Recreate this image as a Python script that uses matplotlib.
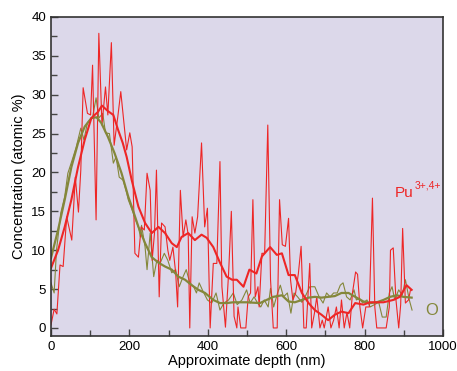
import matplotlib
matplotlib.use("Agg")
import matplotlib.pyplot as plt
from matplotlib.ticker import MultipleLocator

# Pu noisy (red thin)
pu_depth = [0, 8, 15, 23, 31, 40, 53, 62, 70, 76, 82, 93, 101, 106, 115, 122, 130, 139, 145, 154,
            161, 170, 178, 186, 193, 201, 207, 214, 223, 230, 238, 245, 253, 258, 264, 269, 276, 282,
            291, 298, 303, 311, 318, 323, 330, 337, 344, 350, 354, 360, 367, 374, 384, 392, 399, 406,
            414, 423, 431, 436, 445, 453, 460, 467, 474, 477, 484, 497, 503, 509, 515, 521, 528, 531,
            538, 545, 553, 560, 567, 577, 583, 590, 598, 606, 611, 617, 624, 631, 638, 645, 651, 660,
            665, 672, 678, 686, 692, 697, 707, 714, 721, 728, 735, 741, 748, 755, 762, 769, 777, 782,
            788, 795, 803, 812, 820, 826, 831, 840, 848, 855, 863, 866, 873, 880, 887, 892, 897, 904,
            912, 917]
pu_conc = [0.4, 2.4, 1.8, 8.1, 7.9, 14.3, 11.3, 19.4, 14.9, 20.3, 30.9, 27.6, 27.4, 33.8, 13.9, 37.9,
           26.1, 31.0, 27.4, 36.7, 23.5, 27.0, 30.4, 26.4, 22.9, 25.1, 23.3, 9.6, 9.1, 13.0, 12.6, 19.9,
           17.7, 8.7, 12.2, 20.3, 4.0, 13.5, 13.0, 10.0, 8.7, 10.4, 7.1, 2.7, 17.7, 11.7, 13.9, 12.0,
           0.0, 14.3, 12.2, 14.3, 23.8, 13.0, 15.4, 0.0, 8.3, 8.3, 21.4, 5.3, 0.1, 7.0, 15.0, 1.5, 0.0,
           2.7, 0.0, 0.0, 4.0, 4.5, 16.5, 4.0, 5.3, 2.7, 9.6, 9.6, 26.1, 6.2, 0.0, 0.0, 16.5, 10.7, 10.5,
           14.1, 6.2, 3.6, 4.5, 7.0, 10.5, 0.0, 0.0, 8.3, 0.0, 1.9, 4.0, 0.0, 1.0, 0.0, 2.7, 0.0, 1.0,
           2.7, 0.0, 3.6, 0.0, 2.0, 0.0, 4.5, 7.2, 6.9, 2.7, 0.0, 2.7, 2.7, 16.7, 2.7, 0.0, 0.0, 0.0,
           0.0, 2.7, 10.0, 10.3, 3.6, 0.0, 3.0, 12.8, 3.2, 3.6, 4.9]

# Pu smoothed (red thick)
pus_depth = [0, 18, 35, 52, 69, 86, 103, 120, 130, 145, 159, 171, 183, 193, 206, 223, 240, 257, 274,
             291, 308, 321, 333, 350, 367, 384, 397, 414, 431, 448, 462, 474, 491, 506, 524, 538, 559,
             576, 589, 606, 622, 640, 657, 673, 690, 707, 724, 741, 759, 776, 797, 814, 848, 873, 890,
             907, 920]
pus_conc = [7.7, 10.0, 13.0, 16.5, 20.7, 24.2, 27.0, 27.8, 28.6, 27.9, 27.4, 25.5, 23.8, 22.0, 19.0,
            15.6, 13.5, 12.2, 13.0, 12.2, 10.9, 10.4, 11.7, 12.2, 11.3, 12.0, 11.6, 10.4, 8.4, 6.6,
            6.2, 6.2, 5.3, 7.5, 7.0, 9.2, 10.4, 9.4, 9.6, 6.8, 6.8, 4.5, 3.2, 2.3, 1.7, 1.0, 1.7, 2.1,
            1.9, 3.2, 3.0, 3.3, 3.3, 3.6, 4.0, 5.5, 4.9]

# O noisy (olive thin)
o_depth = [0, 8, 14, 25, 35, 43, 54, 64, 76, 84, 93, 106, 115, 122, 132, 139, 149, 159, 166, 174,
           184, 193, 197, 206, 215, 223, 228, 231, 240, 245, 253, 262, 270, 279, 289, 298, 308, 318,
           327, 337, 345, 354, 364, 371, 378, 386, 399, 410, 421, 431, 441, 453, 465, 475, 487, 499,
           508, 518, 527, 535, 544, 554, 560, 568, 578, 585, 593, 603, 612, 620, 629, 640, 650, 660,
           673, 684, 694, 703, 712, 721, 730, 738, 745, 754, 763, 773, 779, 787, 795, 806, 814, 825,
           836, 845, 855, 863, 870, 877, 887, 896, 904, 914, 921]
o_conc = [5.8, 4.5, 10.0, 14.8, 16.9, 19.9, 21.6, 23.2, 25.7, 24.2, 26.4, 27.1, 29.6, 27.0, 27.6,
          25.1, 25.0, 21.2, 22.0, 19.4, 19.0, 17.4, 16.5, 15.3, 14.0, 13.0, 11.7, 13.2, 10.4, 7.5,
          12.2, 6.6, 8.7, 8.4, 9.6, 8.7, 7.1, 7.5, 5.3, 6.6, 7.5, 5.8, 5.3, 4.5, 5.8, 4.9, 3.6, 3.2,
          4.5, 2.3, 3.2, 3.6, 4.5, 3.0, 3.6, 4.9, 3.2, 4.0, 3.2, 2.7, 3.6, 2.7, 5.1, 2.7, 4.5, 5.5,
          4.0, 4.5, 1.9, 4.5, 4.0, 3.3, 4.2, 5.3, 5.3, 4.0, 3.2, 4.5, 4.0, 4.5, 4.5, 5.5, 5.8, 4.0,
          3.6, 4.9, 3.6, 3.8, 3.2, 3.6, 2.7, 3.0, 3.3, 1.4, 1.4, 4.5, 5.3, 3.6, 4.9, 4.2, 6.2, 3.6, 2.3]

# O smoothed (olive thick)
os_depth = [0, 18, 35, 52, 69, 86, 103, 116, 128, 145, 162, 180, 197, 206, 223, 240, 257, 274, 291,
            308, 325, 342, 359, 376, 393, 414, 431, 448, 465, 499, 533, 567, 589, 606, 622, 640, 657,
            673, 690, 707, 724, 741, 759, 776, 797, 814, 831, 848, 865, 882, 899, 920]
os_conc = [9.0, 12.6, 16.5, 20.7, 23.8, 25.9, 27.0, 27.1, 26.4, 24.6, 22.5, 19.9, 16.9, 15.6, 13.0,
           10.9, 9.1, 8.4, 7.9, 7.5, 6.6, 6.2, 5.5, 4.9, 4.5, 3.6, 3.2, 3.2, 3.3, 3.3, 3.2, 4.0, 4.2,
           3.4, 3.3, 3.6, 3.9, 4.0, 3.9, 4.0, 4.1, 4.5, 4.5, 4.0, 3.4, 3.2, 3.3, 3.6, 4.0, 4.2, 4.0, 3.9]

RED = "#ee2626"
OLIVE = "#84873a"
BG = "#dcd8ea"

plt.rcParams['font.family'] = ['Liberation Sans', 'DejaVu Sans']

fig = plt.figure(figsize=(4.57, 3.71), dpi=100)
ax = fig.add_axes([0.1116, 0.0951, 0.8578, 0.8591])
ax.set_facecolor(BG)

ax.plot(o_depth, o_conc, color=OLIVE, lw=0.8)
ax.plot(pu_depth, pu_conc, color=RED, lw=0.8)
ax.plot(os_depth, os_conc, color=OLIVE, lw=1.6)
ax.plot(pus_depth, pus_conc, color=RED, lw=1.5)

ax.set_xlim(0, 1000)
ax.set_ylim(-1, 40)
ax.xaxis.set_major_locator(MultipleLocator(200))
ax.xaxis.set_minor_locator(MultipleLocator(100))
ax.yaxis.set_major_locator(MultipleLocator(5))
ax.yaxis.set_minor_locator(MultipleLocator(2.5))
ax.tick_params(which='both', direction='in', color='#444444', labelsize=9.5, width=1)
ax.tick_params(which='major', length=5)
ax.tick_params(which='minor', length=4)
for s in ax.spines.values():
    s.set_color('#333333')
    s.set_linewidth(1.2)

ax.set_xlabel("Approximate depth (nm)", fontsize=10.5, labelpad=1)
ax.set_ylabel("Concentration (atomic %)", fontsize=10.5, labelpad=4)

pu_txt = ax.text(877, 17.4, "Pu", color=RED, fontsize=11, va='center', ha='left')
ax.annotate("3+,4+", xy=(1.0, 0.62), xycoords=pu_txt, xytext=(0.5, 0),
            textcoords='offset points', color=RED, fontsize=7.5, va='bottom', ha='left')
ax.text(971, 2.3, "O", color=OLIVE, fontsize=12, va='center', ha='center')

fig.savefig("out.png", dpi=100, facecolor='white')
